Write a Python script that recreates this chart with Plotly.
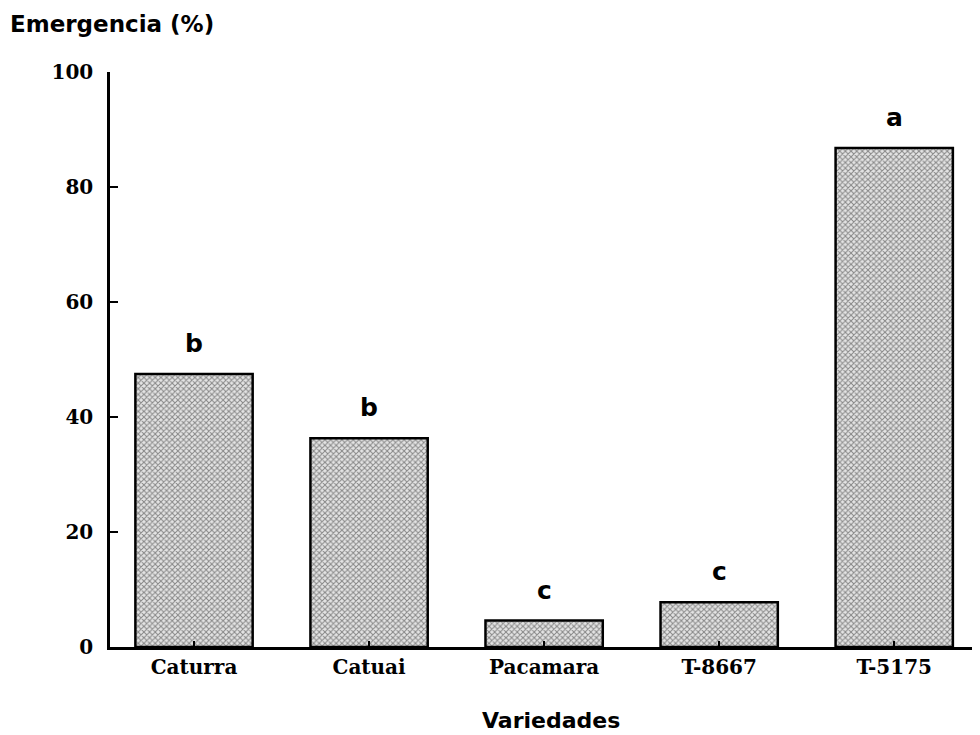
import plotly.graph_objects as go

# Data
varieties = ['Caturra', 'Catuai', 'Pacamara', 'T-8667', 'T-5175']
emergence = [47.5, 36.3, 4.6, 7.8, 86.8]
letters = ['b', 'b', 'c', 'c', 'a']
y_ticks = [0, 20, 40, 60, 80, 100]

serif = 'DejaVu Serif'
sans = 'DejaVu Sans'

fig = go.Figure(go.Bar(
    x=varieties,
    y=emergence,
    width=0.67,
    marker=dict(
        color='#bbbbbb',
        line=dict(color='black', width=2.5),
        pattern=dict(shape='x', fgcolor='#2a2a2a', bgcolor='#e4e4e4', size=4, solidity=0.45),
    ),
))

# significance letters above the bars
for v, val, lt in zip(varieties, emergence, letters):
    fig.add_annotation(x=v, y=val, text='<b>' + lt + '</b>', showarrow=False,
                       yanchor='bottom', yshift=14,
                       font=dict(family=sans, size=25, color='black'))

fig.add_annotation(xref='paper', yref='paper', x=-0.117, y=1.0835, xanchor='left', yanchor='middle',
                   text='<b>Emergencia (%)</b>', showarrow=False,
                   font=dict(family=sans, size=23, color='black'))
fig.add_annotation(xref='paper', yref='paper', x=0.507, y=-0.127, xanchor='center', yanchor='middle',
                   text='<b>Variedades</b>', showarrow=False,
                   font=dict(family=sans, size=22, color='black'))

fig.update_layout(
    width=972, height=727,
    margin=dict(l=102, r=0, t=64, b=88),
    plot_bgcolor='white', paper_bgcolor='white',
    showlegend=False,
)
fig.update_xaxes(
    range=[-0.48, 4.49],
    showline=True, linecolor='black', linewidth=2.5,
    ticks='inside', ticklen=6, tickcolor='black', tickwidth=1.5,
    tickfont=dict(family=serif, size=20, color='black', weight='bold'),
    showgrid=False,
)
fig.update_yaxes(
    range=[0, 100], tickvals=y_ticks,
    showline=True, linecolor='black', linewidth=2.5,
    ticks='inside', ticklen=8, tickcolor='black', tickwidth=1.5,
    ticklabelstandoff=10,
    tickfont=dict(family=serif, size=20, color='black', weight='bold'),
    showgrid=False, zeroline=False,
)

fig.write_html('out.html')
